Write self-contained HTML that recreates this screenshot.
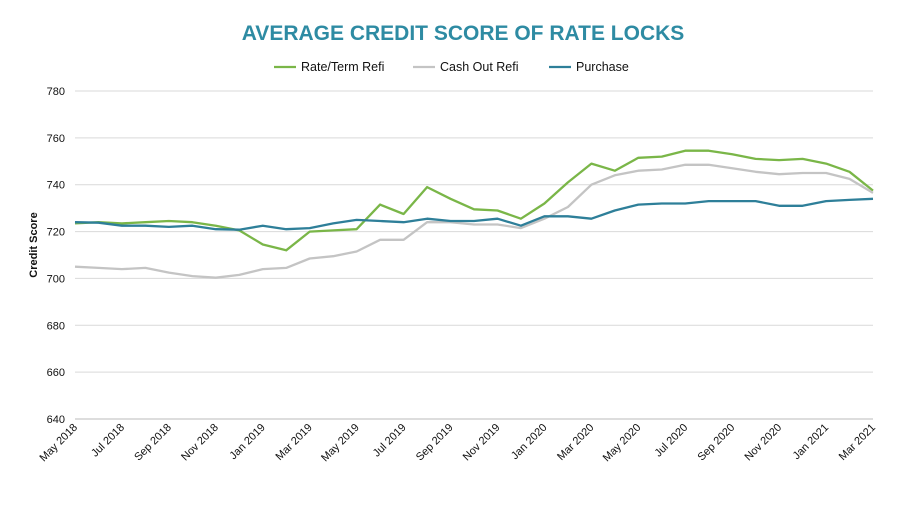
<!DOCTYPE html>
<html><head><meta charset="utf-8"><style>
body{margin:0;background:#fff;}
svg text{font-family:"Liberation Sans",Arial,sans-serif;}
</style></head><body>
<svg id="chart" width="903" height="518" xmlns="http://www.w3.org/2000/svg">
<text x="463" y="40" text-anchor="middle" font-size="21" font-weight="bold" fill="#2e8ba3">AVERAGE CREDIT SCORE OF RATE LOCKS</text>
<g id="legend"></g>
<g id="grid"></g><g id="lines"></g><g id="axes"></g>
<text transform="translate(37,245) rotate(-90)" text-anchor="middle" font-size="11" font-weight="bold" fill="#111">Credit Score</text>
</svg>
<script>
const months = ["May 2018","Jun 2018","Jul 2018","Aug 2018","Sep 2018","Oct 2018","Nov 2018","Dec 2018","Jan 2019","Feb 2019","Mar 2019","Apr 2019","May 2019","Jun 2019","Jul 2019","Aug 2019","Sep 2019","Oct 2019","Nov 2019","Dec 2019","Jan 2020","Feb 2020","Mar 2020","Apr 2020","May 2020","Jun 2020","Jul 2020","Aug 2020","Sep 2020","Oct 2020","Nov 2020","Dec 2020","Jan 2021","Feb 2021","Mar 2021"];
const rateTerm = [723.5,724,723.5,724,724.5,724,722.5,720.5,714.5,712,720,720.5,721,731.5,727.5,739,734,729.5,729,725.5,732,741,749,746,751.5,752,754.5,754.5,753,751,750.5,751,749,745.5,737.5];
const cashOut = [705,704.5,704,704.5,702.5,701,700.3,701.5,704,704.5,708.5,709.5,711.5,716.5,716.5,724,724,723,723,721.5,725.5,730.5,740,744,746,746.5,748.5,748.5,747,745.5,744.5,745,745,742.5,736.5];
const purchase = [724,723.8,722.5,722.5,722,722.5,721,720.8,722.5,721,721.5,723.5,725,724.5,724,725.5,724.5,724.5,725.5,722.5,726.5,726.5,725.5,729,731.5,732,732,733,733,733,731,731,733,733.5,734];
const yTicks = [640,660,680,700,720,740,760,780];
const seriesNames = ["Rate/Term Refi","Cash Out Refi","Purchase"];
const seriesColors = ["#7ab648","#c4c4c4","#2e7f99"];

const NS="http://www.w3.org/2000/svg";
const x0=75,x1=873,yTop=91,yBot=419,vMin=640,vMax=780;
const xs=i=>x0+(x1-x0)*i/(months.length-1);
const ys=v=>yBot-(v-vMin)/(vMax-vMin)*(yBot-yTop);
function mk(tag,attrs,parent){const e=document.createElementNS(NS,tag);for(const k in attrs)e.setAttribute(k,attrs[k]);parent.appendChild(e);return e;}
const grid=document.getElementById('grid'),axes=document.getElementById('axes'),lines=document.getElementById('lines'),legend=document.getElementById('legend');
yTicks.forEach(v=>{
  const l=mk('line',{x1:x0,x2:x1,y1:ys(v),y2:ys(v),stroke:v===vMin?'#bbb':'#d9d9d9','stroke-width':1},grid);
  
  
  const t=mk('text',{x:65,y:ys(v)+4,'text-anchor':'end','font-size':11,fill:'#111'},axes);
  t.textContent=v;
  
  
});
months.forEach((m,i)=>{
  if(i%2!==0)return;
  const parts=m.split(' ');
  const lbl=parts[0].slice(0,3)+' '+parts[1];
  const t=mk('text',{transform:`translate(${xs(i)+3},${yBot+9}) rotate(-45)`,'text-anchor':'end','font-size':11,fill:'#111'},axes);
  t.textContent=lbl;
  
  
});
[rateTerm,cashOut,purchase].forEach((data,s)=>{
  const d=data.map((v,i)=>(i?'L':'M')+xs(i).toFixed(1)+','+ys(v).toFixed(1)).join(' ');
  const p=mk('path',{d,fill:'none',stroke:seriesColors[s],'stroke-width':2.3,'stroke-linejoin':'round'},lines);
  
  
});
const legX=[274,413,549];
seriesNames.forEach((n,s)=>{
  const l=mk('line',{x1:legX[s],x2:legX[s]+22,y1:67,y2:67,stroke:seriesColors[s],'stroke-width':2.3},legend);
  
  
  const t=mk('text',{x:legX[s]+27,y:71,'font-size':12.5,fill:'#111'},legend);
  t.textContent=n;
  
  
});
</script>
</body></html>
